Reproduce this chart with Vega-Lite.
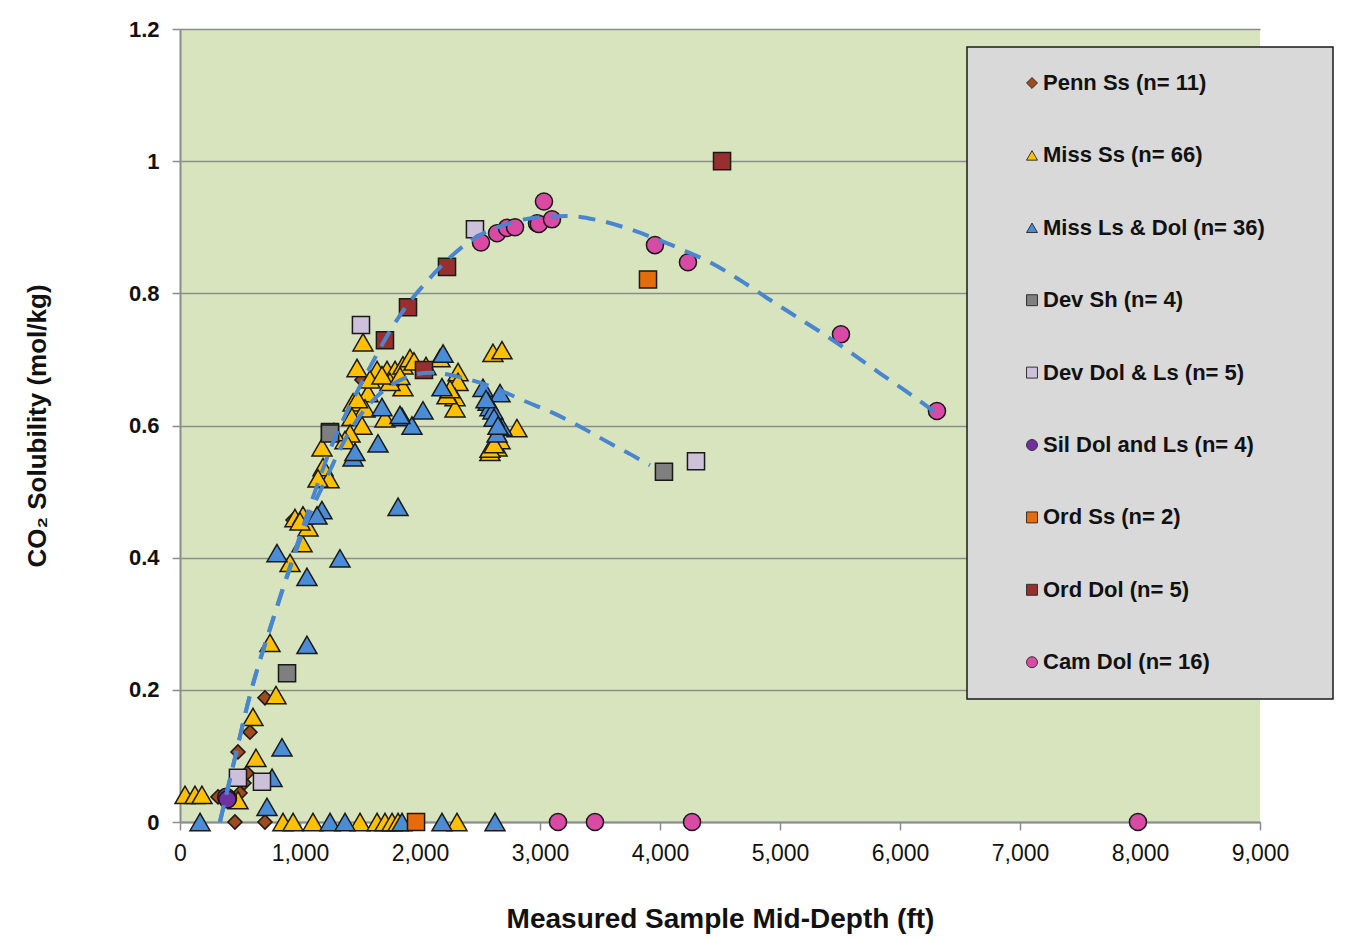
{
  "$schema": "https://vega.github.io/schema/vega-lite/v6.json",
  "width": 1080,
  "height": 793,
  "autosize": "none",
  "padding": {"left": 180, "top": 29, "right": 95, "bottom": 120},
  "background": "white",
  "config": {
    "view": {"fill": "#d7e4bd", "stroke": null},
    "legend": {
      "strokeWidth": 1.5
    }
  },
  "datasets": {
    "points": [
      {"series": "Penn Ss (n= 11)", "depth": 708, "sol": 0.188},
      {"series": "Penn Ss (n= 11)", "depth": 583, "sol": 0.136},
      {"series": "Penn Ss (n= 11)", "depth": 483, "sol": 0.106},
      {"series": "Penn Ss (n= 11)", "depth": 558, "sol": 0.074},
      {"series": "Penn Ss (n= 11)", "depth": 533, "sol": 0.059},
      {"series": "Penn Ss (n= 11)", "depth": 500, "sol": 0.044},
      {"series": "Penn Ss (n= 11)", "depth": 317, "sol": 0.038},
      {"series": "Penn Ss (n= 11)", "depth": 458, "sol": 0},
      {"series": "Penn Ss (n= 11)", "depth": 708, "sol": 0},
      {"series": "Penn Ss (n= 11)", "depth": 1517, "sol": 0.669},
      {"series": "Penn Ss (n= 11)", "depth": 942, "sol": 0.457},

      {"series": "Miss Ss (n= 66)", "depth": 858, "sol": 0},
      {"series": "Miss Ss (n= 66)", "depth": 942, "sol": 0},
      {"series": "Miss Ss (n= 66)", "depth": 1108, "sol": 0},
      {"series": "Miss Ss (n= 66)", "depth": 1500, "sol": 0},
      {"series": "Miss Ss (n= 66)", "depth": 1642, "sol": 0},
      {"series": "Miss Ss (n= 66)", "depth": 1708, "sol": 0},
      {"series": "Miss Ss (n= 66)", "depth": 1767, "sol": 0},
      {"series": "Miss Ss (n= 66)", "depth": 1817, "sol": 0},
      {"series": "Miss Ss (n= 66)", "depth": 2308, "sol": 0},
      {"series": "Miss Ss (n= 66)", "depth": 42, "sol": 0.041},
      {"series": "Miss Ss (n= 66)", "depth": 125, "sol": 0.041},
      {"series": "Miss Ss (n= 66)", "depth": 183, "sol": 0.041},
      {"series": "Miss Ss (n= 66)", "depth": 483, "sol": 0.033},
      {"series": "Miss Ss (n= 66)", "depth": 633, "sol": 0.097},
      {"series": "Miss Ss (n= 66)", "depth": 608, "sol": 0.159},
      {"series": "Miss Ss (n= 66)", "depth": 800, "sol": 0.192},
      {"series": "Miss Ss (n= 66)", "depth": 750, "sol": 0.271},
      {"series": "Miss Ss (n= 66)", "depth": 917, "sol": 0.392},
      {"series": "Miss Ss (n= 66)", "depth": 1017, "sol": 0.422},
      {"series": "Miss Ss (n= 66)", "depth": 958, "sol": 0.46},
      {"series": "Miss Ss (n= 66)", "depth": 1067, "sol": 0.446},
      {"series": "Miss Ss (n= 66)", "depth": 1025, "sol": 0.464},
      {"series": "Miss Ss (n= 66)", "depth": 1192, "sol": 0.537},
      {"series": "Miss Ss (n= 66)", "depth": 1242, "sol": 0.519},
      {"series": "Miss Ss (n= 66)", "depth": 1183, "sol": 0.567},
      {"series": "Miss Ss (n= 66)", "depth": 1525, "sol": 0.726},
      {"series": "Miss Ss (n= 66)", "depth": 1475, "sol": 0.687},
      {"series": "Miss Ss (n= 66)", "depth": 1642, "sol": 0.684},
      {"series": "Miss Ss (n= 66)", "depth": 1725, "sol": 0.684},
      {"series": "Miss Ss (n= 66)", "depth": 1792, "sol": 0.684},
      {"series": "Miss Ss (n= 66)", "depth": 1858, "sol": 0.691},
      {"series": "Miss Ss (n= 66)", "depth": 1917, "sol": 0.702},
      {"series": "Miss Ss (n= 66)", "depth": 1858, "sol": 0.658},
      {"series": "Miss Ss (n= 66)", "depth": 1750, "sol": 0.666},
      {"series": "Miss Ss (n= 66)", "depth": 1567, "sol": 0.649},
      {"series": "Miss Ss (n= 66)", "depth": 1442, "sol": 0.635},
      {"series": "Miss Ss (n= 66)", "depth": 1542, "sol": 0.626},
      {"series": "Miss Ss (n= 66)", "depth": 1433, "sol": 0.613},
      {"series": "Miss Ss (n= 66)", "depth": 1708, "sol": 0.611},
      {"series": "Miss Ss (n= 66)", "depth": 1517, "sol": 0.6},
      {"series": "Miss Ss (n= 66)", "depth": 1417, "sol": 0.588},
      {"series": "Miss Ss (n= 66)", "depth": 1375, "sol": 0.578},
      {"series": "Miss Ss (n= 66)", "depth": 2167, "sol": 0.702},
      {"series": "Miss Ss (n= 66)", "depth": 2317, "sol": 0.681},
      {"series": "Miss Ss (n= 66)", "depth": 2317, "sol": 0.666},
      {"series": "Miss Ss (n= 66)", "depth": 2292, "sol": 0.643},
      {"series": "Miss Ss (n= 66)", "depth": 2292, "sol": 0.626},
      {"series": "Miss Ss (n= 66)", "depth": 2225, "sol": 0.646},
      {"series": "Miss Ss (n= 66)", "depth": 2608, "sol": 0.71},
      {"series": "Miss Ss (n= 66)", "depth": 2683, "sol": 0.714},
      {"series": "Miss Ss (n= 66)", "depth": 2642, "sol": 0.567},
      {"series": "Miss Ss (n= 66)", "depth": 2583, "sol": 0.56},
      {"series": "Miss Ss (n= 66)", "depth": 2808, "sol": 0.596},
      {"series": "Miss Ss (n= 66)", "depth": 2667, "sol": 0.578},
      {"series": "Miss Ss (n= 66)", "depth": 1583, "sol": 0.67},
      {"series": "Miss Ss (n= 66)", "depth": 1683, "sol": 0.676},
      {"series": "Miss Ss (n= 66)", "depth": 1950, "sol": 0.697},
      {"series": "Miss Ss (n= 66)", "depth": 2050, "sol": 0.69},
      {"series": "Miss Ss (n= 66)", "depth": 2583, "sol": 0.565},
      {"series": "Miss Ss (n= 66)", "depth": 2617, "sol": 0.572},
      {"series": "Miss Ss (n= 66)", "depth": 1283, "sol": 0.59},
      {"series": "Miss Ss (n= 66)", "depth": 1150, "sol": 0.52},
      {"series": "Miss Ss (n= 66)", "depth": 1000, "sol": 0.455},
      {"series": "Miss Ss (n= 66)", "depth": 2250, "sol": 0.655},
      {"series": "Miss Ss (n= 66)", "depth": 1833, "sol": 0.675},
      {"series": "Miss Ss (n= 66)", "depth": 1480, "sol": 0.64},

      {"series": "Miss Ls & Dol  (n= 36)", "depth": 167, "sol": 0},
      {"series": "Miss Ls & Dol  (n= 36)", "depth": 1250, "sol": 0},
      {"series": "Miss Ls & Dol  (n= 36)", "depth": 1375, "sol": 0},
      {"series": "Miss Ls & Dol  (n= 36)", "depth": 1850, "sol": 0},
      {"series": "Miss Ls & Dol  (n= 36)", "depth": 2183, "sol": 0},
      {"series": "Miss Ls & Dol  (n= 36)", "depth": 2625, "sol": 0},
      {"series": "Miss Ls & Dol  (n= 36)", "depth": 725, "sol": 0.023},
      {"series": "Miss Ls & Dol  (n= 36)", "depth": 767, "sol": 0.067},
      {"series": "Miss Ls & Dol  (n= 36)", "depth": 850, "sol": 0.113},
      {"series": "Miss Ls & Dol  (n= 36)", "depth": 1058, "sol": 0.268},
      {"series": "Miss Ls & Dol  (n= 36)", "depth": 808, "sol": 0.407},
      {"series": "Miss Ls & Dol  (n= 36)", "depth": 1058, "sol": 0.371},
      {"series": "Miss Ls & Dol  (n= 36)", "depth": 1333, "sol": 0.399},
      {"series": "Miss Ls & Dol  (n= 36)", "depth": 1183, "sol": 0.472},
      {"series": "Miss Ls & Dol  (n= 36)", "depth": 1142, "sol": 0.464},
      {"series": "Miss Ls & Dol  (n= 36)", "depth": 1650, "sol": 0.573},
      {"series": "Miss Ls & Dol  (n= 36)", "depth": 1442, "sol": 0.552},
      {"series": "Miss Ls & Dol  (n= 36)", "depth": 1683, "sol": 0.628},
      {"series": "Miss Ls & Dol  (n= 36)", "depth": 1850, "sol": 0.613},
      {"series": "Miss Ls & Dol  (n= 36)", "depth": 1933, "sol": 0.6},
      {"series": "Miss Ls & Dol  (n= 36)", "depth": 1817, "sol": 0.477},
      {"series": "Miss Ls & Dol  (n= 36)", "depth": 2025, "sol": 0.623},
      {"series": "Miss Ls & Dol  (n= 36)", "depth": 2192, "sol": 0.709},
      {"series": "Miss Ls & Dol  (n= 36)", "depth": 2183, "sol": 0.658},
      {"series": "Miss Ls & Dol  (n= 36)", "depth": 2525, "sol": 0.657},
      {"series": "Miss Ls & Dol  (n= 36)", "depth": 2667, "sol": 0.649},
      {"series": "Miss Ls & Dol  (n= 36)", "depth": 2567, "sol": 0.636},
      {"series": "Miss Ls & Dol  (n= 36)", "depth": 2583, "sol": 0.628},
      {"series": "Miss Ls & Dol  (n= 36)", "depth": 2608, "sol": 0.623},
      {"series": "Miss Ls & Dol  (n= 36)", "depth": 2683, "sol": 0.598},
      {"series": "Miss Ls & Dol  (n= 36)", "depth": 2642, "sol": 0.588},
      {"series": "Miss Ls & Dol  (n= 36)", "depth": 1833, "sol": 0.616},
      {"series": "Miss Ls & Dol  (n= 36)", "depth": 2617, "sol": 0.612},
      {"series": "Miss Ls & Dol  (n= 36)", "depth": 2550, "sol": 0.64},
      {"series": "Miss Ls & Dol  (n= 36)", "depth": 2650, "sol": 0.6},
      {"series": "Miss Ls & Dol  (n= 36)", "depth": 1458, "sol": 0.56},

      {"series": "Dev Sh (n= 4)", "depth": 892, "sol": 0.225},
      {"series": "Dev Sh (n= 4)", "depth": 1250, "sol": 0.59},
      {"series": "Dev Sh (n= 4)", "depth": 4033, "sol": 0.53},
      {"series": "Dev Sh (n= 4)", "depth": 1250, "sol": 0.588},

      {"series": "Dev Dol & Ls (n= 5)", "depth": 483, "sol": 0.067},
      {"series": "Dev Dol & Ls (n= 5)", "depth": 683, "sol": 0.061},
      {"series": "Dev Dol & Ls (n= 5)", "depth": 1508, "sol": 0.752},
      {"series": "Dev Dol & Ls (n= 5)", "depth": 2458, "sol": 0.897},
      {"series": "Dev Dol & Ls (n= 5)", "depth": 4300, "sol": 0.546},

      {"series": "Sil Dol and Ls (n= 4)", "depth": 392, "sol": 0.036},
      {"series": "Sil Dol and Ls (n= 4)", "depth": 400, "sol": 0.036},
      {"series": "Sil Dol and Ls (n= 4)", "depth": 385, "sol": 0.038},
      {"series": "Sil Dol and Ls (n= 4)", "depth": 395, "sol": 0.034},

      {"series": "Ord Ss (n= 2)", "depth": 1967, "sol": 0},
      {"series": "Ord Ss (n= 2)", "depth": 3900, "sol": 0.821},

      {"series": "Ord Dol (n= 5)", "depth": 1708, "sol": 0.729},
      {"series": "Ord Dol (n= 5)", "depth": 1900, "sol": 0.779},
      {"series": "Ord Dol (n= 5)", "depth": 2225, "sol": 0.84},
      {"series": "Ord Dol (n= 5)", "depth": 2033, "sol": 0.684},
      {"series": "Ord Dol (n= 5)", "depth": 4517, "sol": 1.0},

      {"series": "Cam Dol (n= 16)", "depth": 3033, "sol": 0.939},
      {"series": "Cam Dol (n= 16)", "depth": 2508, "sol": 0.877},
      {"series": "Cam Dol (n= 16)", "depth": 2642, "sol": 0.891},
      {"series": "Cam Dol (n= 16)", "depth": 2725, "sol": 0.899},
      {"series": "Cam Dol (n= 16)", "depth": 2792, "sol": 0.9},
      {"series": "Cam Dol (n= 16)", "depth": 2975, "sol": 0.906},
      {"series": "Cam Dol (n= 16)", "depth": 2990, "sol": 0.905},
      {"series": "Cam Dol (n= 16)", "depth": 3100, "sol": 0.912},
      {"series": "Cam Dol (n= 16)", "depth": 3958, "sol": 0.873},
      {"series": "Cam Dol (n= 16)", "depth": 4233, "sol": 0.847},
      {"series": "Cam Dol (n= 16)", "depth": 5508, "sol": 0.738},
      {"series": "Cam Dol (n= 16)", "depth": 6308, "sol": 0.622},
      {"series": "Cam Dol (n= 16)", "depth": 3150, "sol": 0},
      {"series": "Cam Dol (n= 16)", "depth": 3458, "sol": 0},
      {"series": "Cam Dol (n= 16)", "depth": 4267, "sol": 0},
      {"series": "Cam Dol (n= 16)", "depth": 7983, "sol": 0}
    ],
    "trends": [
      {"curve": "upper", "depth": 333, "sol": 0},
      {"curve": "upper", "depth": 458, "sol": 0.097},
      {"curve": "upper", "depth": 583, "sol": 0.192},
      {"curve": "upper", "depth": 667, "sol": 0.245},
      {"curve": "upper", "depth": 750, "sol": 0.293},
      {"curve": "upper", "depth": 833, "sol": 0.34},
      {"curve": "upper", "depth": 917, "sol": 0.387},
      {"curve": "upper", "depth": 1000, "sol": 0.433},
      {"curve": "upper", "depth": 1083, "sol": 0.478},
      {"curve": "upper", "depth": 1167, "sol": 0.522},
      {"curve": "upper", "depth": 1250, "sol": 0.563},
      {"curve": "upper", "depth": 1358, "sol": 0.608},
      {"curve": "upper", "depth": 1475, "sol": 0.651},
      {"curve": "upper", "depth": 1600, "sol": 0.694},
      {"curve": "upper", "depth": 1750, "sol": 0.743},
      {"curve": "upper", "depth": 1892, "sol": 0.782},
      {"curve": "upper", "depth": 2058, "sol": 0.818},
      {"curve": "upper", "depth": 2225, "sol": 0.85},
      {"curve": "upper", "depth": 2442, "sol": 0.882},
      {"curve": "upper", "depth": 2692, "sol": 0.903},
      {"curve": "upper", "depth": 2942, "sol": 0.914},
      {"curve": "upper", "depth": 3225, "sol": 0.917},
      {"curve": "upper", "depth": 3475, "sol": 0.911},
      {"curve": "upper", "depth": 3750, "sol": 0.897},
      {"curve": "upper", "depth": 4000, "sol": 0.88},
      {"curve": "upper", "depth": 4250, "sol": 0.861},
      {"curve": "upper", "depth": 4417, "sol": 0.847},
      {"curve": "upper", "depth": 4667, "sol": 0.82},
      {"curve": "upper", "depth": 4892, "sol": 0.793},
      {"curve": "upper", "depth": 5142, "sol": 0.764},
      {"curve": "upper", "depth": 5392, "sol": 0.735},
      {"curve": "upper", "depth": 5608, "sol": 0.708},
      {"curve": "upper", "depth": 5833, "sol": 0.679},
      {"curve": "upper", "depth": 6058, "sol": 0.651},
      {"curve": "upper", "depth": 6292, "sol": 0.62},
      {"curve": "lower", "depth": 333, "sol": 0},
      {"curve": "lower", "depth": 458, "sol": 0.097},
      {"curve": "lower", "depth": 583, "sol": 0.192},
      {"curve": "lower", "depth": 667, "sol": 0.245},
      {"curve": "lower", "depth": 750, "sol": 0.292},
      {"curve": "lower", "depth": 833, "sol": 0.339},
      {"curve": "lower", "depth": 917, "sol": 0.384},
      {"curve": "lower", "depth": 1000, "sol": 0.427},
      {"curve": "lower", "depth": 1108, "sol": 0.477},
      {"curve": "lower", "depth": 1225, "sol": 0.522},
      {"curve": "lower", "depth": 1333, "sol": 0.564},
      {"curve": "lower", "depth": 1475, "sol": 0.608},
      {"curve": "lower", "depth": 1642, "sol": 0.644},
      {"curve": "lower", "depth": 1875, "sol": 0.672},
      {"curve": "lower", "depth": 2083, "sol": 0.68},
      {"curve": "lower", "depth": 2358, "sol": 0.672},
      {"curve": "lower", "depth": 2608, "sol": 0.658},
      {"curve": "lower", "depth": 2858, "sol": 0.638},
      {"curve": "lower", "depth": 3108, "sol": 0.619},
      {"curve": "lower", "depth": 3358, "sol": 0.596},
      {"curve": "lower", "depth": 3583, "sol": 0.573},
      {"curve": "lower", "depth": 3808, "sol": 0.551},
      {"curve": "lower", "depth": 3917, "sol": 0.54}
    ]
  },
  "encoding": {
    "x": {
      "field": "depth",
      "type": "quantitative",
      "title": "Measured Sample Mid-Depth (ft)",
      "scale": {"domain": [0, 9000], "nice": false},
      "axis": {
        "values": [0, 1000, 2000, 3000, 4000, 5000, 6000, 7000, 8000, 9000],
        "format": ",.0f",
        "grid": false,
        "domainColor": "#8c8c8c",
        "domainWidth": 2,
        "tickColor": "#8c8c8c",
        "tickSize": 8,
        "tickWidth": 1.5,
        "labelFont": "Liberation Sans Narrow, Liberation Sans, sans-serif",
        "labelFontSize": 23,
        "labelColor": "#111111",
        "labelPadding": 12,
        "labelFlush": false,
        "labelOverlap": false,
        "titleFont": "Liberation Sans Narrow, Liberation Sans, sans-serif",
        "titleFontWeight": "bold",
        "titleFontSize": 28,
        "titleColor": "#111111",
        "titlePadding": 40
      }
    },
    "y": {
      "field": "sol",
      "type": "quantitative",
      "title": "CO₂ Solubility (mol/kg)",
      "scale": {"domain": [0, 1.2], "nice": false},
      "axis": {
        "values": [0, 0.2, 0.4, 0.6, 0.8, 1, 1.2],
        "format": "~g",
        "grid": true,
        "gridColor": "#8c8c8c",
        "gridWidth": 1.5,
        "domainColor": "#8c8c8c",
        "domainWidth": 2,
        "tickColor": "#8c8c8c",
        "tickSize": 8,
        "tickWidth": 1.5,
        "labelFont": "Liberation Sans",
        "labelFontWeight": "bold",
        "labelFontSize": 22,
        "labelColor": "#111111",
        "labelPadding": 13,
        "titleFont": "Liberation Sans Narrow, Liberation Sans, sans-serif",
        "titleFontWeight": "bold",
        "titleFontSize": 26,
        "titleColor": "#111111",
        "titlePadding": 78
      }
    }
  },
  "layer": [
    {
      "data": {"name": "points"},
      "encoding": {
        "color": {
          "field": "series",
          "type": "nominal",
          "scale": {
            "domain": ["Penn Ss (n= 11)", "Miss Ss (n= 66)", "Miss Ls & Dol  (n= 36)", "Dev Sh (n= 4)", "Dev Dol & Ls (n= 5)", "Sil Dol and Ls (n= 4)", "Ord Ss (n= 2)", "Ord Dol (n= 5)", "Cam Dol (n= 16)"],
            "range": ["#a04b1e", "#ffc000", "#4a8cd6", "#7f7f7f", "#ccc0da", "#7030a0", "#e46c0a", "#982f2f", "#d94aa5"]
          },
          "legend": {
            "title": null,
            "orient": "none",
            "legendX": 787,
            "legendY": 18,
            "padding": 25,
            "fillColor": "#d9d9d9",
            "strokeColor": "#1a1a1a",
            "rowPadding": 50.4,
            "symbolOffset": 29,
            "labelOffset": 0,
            "symbolSize": 120,
            "symbolStrokeColor": "#333333",
            "symbolStrokeWidth": 1,
            "labelFont": "Liberation Sans",
            "labelFontWeight": "bold",
            "labelFontSize": 22,
            "labelColor": "#111111",
            "labelLimit": 600,
            "labelExpr": "datum.label + '\u00a0\u00a0\u00a0\u00a0\u00a0\u00a0\u200b'"
          }
        },
        "shape": {
          "field": "series",
          "type": "nominal",
          "scale": {
            "domain": ["Penn Ss (n= 11)", "Miss Ss (n= 66)", "Miss Ls & Dol  (n= 36)", "Dev Sh (n= 4)", "Dev Dol & Ls (n= 5)", "Sil Dol and Ls (n= 4)", "Ord Ss (n= 2)", "Ord Dol (n= 5)", "Cam Dol (n= 16)"],
            "range": ["diamond", "triangle-up", "triangle-up", "square", "square", "circle", "square", "square", "circle"]
          }
        }
      },
      "layer": [
        {
          "transform": [{"filter": "datum.series === 'Penn Ss (n= 11)'"}],
          "mark": {"type": "point", "filled": true, "opacity": 1, "stroke": "#1a1a1a", "strokeWidth": 1.5, "size": 200}
        },
        {
          "transform": [{"filter": "datum.series === 'Miss Ss (n= 66)' || datum.series === 'Miss Ls & Dol  (n= 36)'"}],
          "mark": {"type": "point", "filled": true, "opacity": 1, "stroke": "#1a1a1a", "strokeWidth": 1.5, "size": 400}
        },
        {
          "transform": [{"filter": "datum.series !== 'Penn Ss (n= 11)' && datum.series !== 'Miss Ss (n= 66)' && datum.series !== 'Miss Ls & Dol  (n= 36)'"}],
          "mark": {"type": "point", "filled": true, "opacity": 1, "stroke": "#1a1a1a", "strokeWidth": 1.5, "size": 292}
        }
      ]
    },
    {
      "data": {"name": "trends"},
      "mark": {"type": "line", "strokeDash": [17, 11], "strokeWidth": 4, "color": "#4a86cf", "interpolate": "monotone"},
      "encoding": {
        "detail": {"field": "curve", "type": "nominal"}
      }
    }
  ]
}
